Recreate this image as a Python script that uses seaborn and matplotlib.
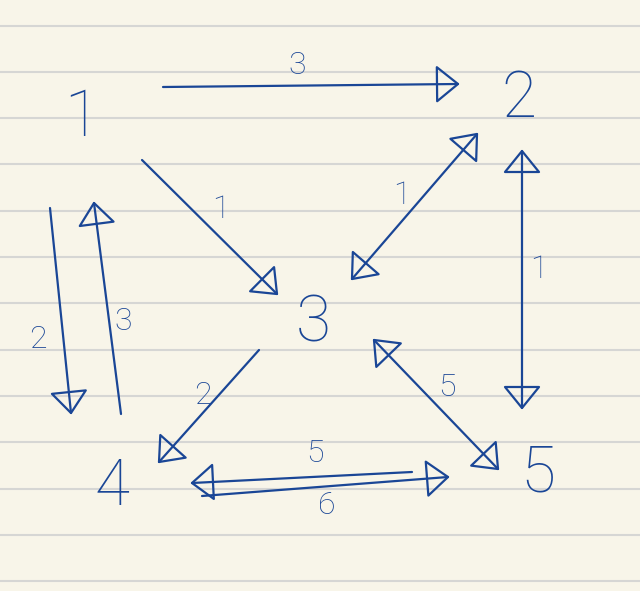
import numpy as np
import pandas as pd
import matplotlib
matplotlib.use("Agg")
import matplotlib.pyplot as plt
import seaborn as sns
from matplotlib.patches import Polygon

# node labels and where they sit on the page (pixels, y down)
node_names = ["1", "2", "3", "4", "5"]
node_x = [82, 519, 313, 112, 538]
node_y = [118, 99, 324, 487, 473]

# edges: start point, end point, heads at (start, end)
edge_x0 = [163, 142, 477, 522, 50, 121, 259, 498, 412, 202]
edge_y0 = [87, 160, 134, 151, 208, 414, 350, 469, 472, 496]
edge_x1 = [458, 277, 352, 522, 71, 94, 159, 374, 192, 448]
edge_y1 = [84, 294, 279, 408, 413, 203, 462, 340, 483, 477]
head_start = [False, False, True, True, False, False, False, True, False, False]
head_end = [True, True, True, True, True, True, True, True, True, True]

# edge weights
weight_text = ["3", "1", "1", "1", "2", "3", "2", "5", "5", "6"]
weight_x = [297, 221, 402, 539, 38, 123, 203, 447, 315, 327]
weight_y = [66, 210, 195, 269, 340, 322, 395, 387, 454, 506]

# ruled lines of the notebook page
rule_y = [26, 72, 118, 164, 211, 257, 303, 350, 396, 442, 489, 535, 581]

ink = "#1a4696"
paper = "#f8f5e9"

sns.set_theme(style="white", rc={"axes.facecolor": paper, "figure.facecolor": paper})
plt.rcParams['font.family'] = ['Roboto', 'DejaVu Sans']

fig = plt.figure(figsize=(6.4, 5.91), dpi=100)
ax = fig.add_axes([0, 0, 1, 1])

for y in rule_y:
    ax.axhline(y, color="#d6d6d4", lw=1.5, zorder=0)

shafts = pd.DataFrame({
    "edge": np.repeat(np.arange(len(edge_x0)), 2),
    "x": np.ravel(np.column_stack([edge_x0, edge_x1])),
    "y": np.ravel(np.column_stack([edge_y0, edge_y1])),
})
sns.lineplot(data=shafts, x="x", y="y", units="edge", estimator=None, sort=False,
             color=ink, lw=1.6, ax=ax, legend=False)


def head(tip, tail, length=21, half=17):
    tip = np.array(tip, float)
    u = tip - np.array(tail, float)
    u /= np.linalg.norm(u)
    n = np.array([-u[1], u[0]])
    base = tip - length * u
    pts = [tip, base + half * n, base - half * n]
    ax.add_patch(Polygon(pts, closed=True, fill=False, ec=ink, lw=1.6,
                         joinstyle="round", zorder=3))


for i in range(len(edge_x0)):
    p0 = (edge_x0[i], edge_y0[i])
    p1 = (edge_x1[i], edge_y1[i])
    if head_end[i]:
        head(p1, p0)
    if head_start[i]:
        head(p0, p1)

for name, x, y in zip(node_names, node_x, node_y):
    ax.text(x, y, name, fontsize=46, color=ink, ha="center", va="center",
            fontweight="light")

for t, x, y in zip(weight_text, weight_x, weight_y):
    ax.text(x, y, t, fontsize=23, color=ink, ha="center", va="center",
            fontweight="light")

ax.set_xlim(0, 640)
ax.set_ylim(591, 0)
ax.set_axis_off()

fig.savefig("out.png", dpi=100, facecolor=paper)
